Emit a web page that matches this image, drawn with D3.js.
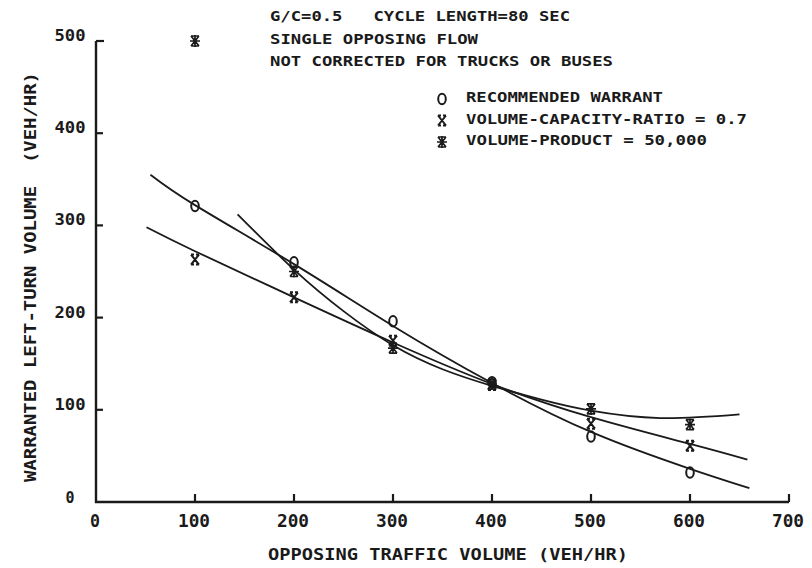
<!DOCTYPE html>
<html>
<head>
<meta charset="utf-8">
<script src="https://cdn.jsdelivr.net/npm/d3@7"></script>
<style>
  body { margin: 0; background: #fff; }
  text { font-family: 'DejaVu Sans Mono', monospace; font-weight: bold; fill: #1a1a1a; white-space: pre; }
</style>
</head>
<body>
<svg id="sketch"></svg>
<script>
// values
var opposing = [100, 200, 300, 400, 500, 600];
var recommended = [321, 260, 196, 130, 71, 32];
var vcRatio = [263, 222, 175, 127, 85, 61];
var volProduct = [500, 250, 167, 128, 101, 84];

// fitted curves drawn on the original
var curveRecX = [55, 100, 200, 300, 400, 500, 600, 660];
var curveRecY = [355, 322, 258, 191, 129, 76, 36, 15];
var curveVcX = [51, 100, 200, 300, 400, 500, 600, 658];
var curveVcY = [298, 272, 222, 173, 128, 92, 63, 46];
var curveVpX = [143, 200, 250, 300, 350, 400, 450, 500, 570, 650];
var curveVpY = [312, 252, 207, 170, 144, 126, 111, 99, 91, 95];

var xTicks = [0, 100, 200, 300, 400, 500, 600, 700];
var yTicks = [0, 100, 200, 300, 400, 500];

var notes = ['G/C=0.5   CYCLE LENGTH=80 SEC', 'SINGLE OPPOSING FLOW', 'NOT CORRECTED FOR TRUCKS OR BUSES'];
var legendLabels = ['RECOMMENDED WARRANT', 'VOLUME-CAPACITY-RATIO = 0.7', 'VOLUME-PRODUCT = 50,000'];

var svg = d3.select('#sketch').attr('width', 812).attr('height', 568);
var ink = '#1a1a1a';

var x = d3.scaleLinear().domain([0, 700]).range([96, 789]);
var y = d3.scaleLinear().domain([0, 500]).range([502, 41]);

//axis frame as a polyline through the scale
var frame = [[0, 500], [0, 0], [700, 0]];
svg.append('path')
    .datum(frame)
    .attr('d', d3.line().x(function(d) { return x(d[0]); }).y(function(d) { return y(d[1]); }))
    .attr('fill', 'none')
    .attr('stroke', ink)
    .attr('stroke-width', 2.4);
svg.append('path')
    .attr('d', d3.line()([[x(0), y(500)], [x(0) + 8, y(500)]]))
    .attr('stroke', ink)
    .attr('stroke-width', 2.2);

//ticks, pointing inward
xTicks.slice(1).forEach(function(d) {
    svg.append('path')
	.attr('d', d3.line()([[x(d), y(0)], [x(d), y(0) - 8]]))
	.attr('stroke', ink)
	.attr('stroke-width', 2.2);
});
yTicks.slice(1, 5).forEach(function(d) {
    svg.append('path')
	.attr('d', d3.line()([[x(0), y(d)], [x(0) + 7, y(d)]]))
	.attr('stroke', ink)
	.attr('stroke-width', 2.2);
});

//tick labels
svg.selectAll('.xlab').data(xTicks).enter().append('text')
    .attr('x', function(d) { return x(d) - 1; })
    .attr('y', 527)
    .attr('text-anchor', 'middle')
    .attr('textLength', function(d) { return d === 0 ? 10 : 32; })
    .attr('lengthAdjust', 'spacingAndGlyphs')
    .style('font-size', '17.5px')
    .text(function(d) { return d; });

svg.selectAll('.ylab').data(yTicks).enter().append('text')
    .attr('x', 70)
    .attr('y', function(d) { return y(d) + (d === 0 ? 1 : 0); })
    .attr('text-anchor', 'middle')
    .attr('textLength', function(d) { return d === 0 ? 9 : 31; })
    .attr('lengthAdjust', 'spacingAndGlyphs')
    .style('font-size', '15px')
    .text(function(d) { return d; });

//axis titles
svg.append('text')
    .attr('x', 448)
    .attr('y', 560)
    .attr('text-anchor', 'middle')
    .attr('textLength', 360)
    .attr('lengthAdjust', 'spacingAndGlyphs')
    .style('font-size', '16.5px')
    .text('OPPOSING TRAFFIC VOLUME (VEH/HR)');

svg.append('text')
    .attr('transform', 'translate(36,277) rotate(-90)')
    .attr('text-anchor', 'middle')
    .attr('textLength', 410)
    .attr('lengthAdjust', 'spacingAndGlyphs')
    .style('font-size', '15px')
    .text('WARRANTED LEFT-TURN VOLUME  (VEH/HR)');

//notes
var noteEnds = [570, 478, 613];
notes.forEach(function(t, i) {
    svg.append('text')
	.attr('x', 270)
	.attr('y', 21 + i * 22.5)
	.attr('textLength', noteEnds[i] - 270)
	.attr('lengthAdjust', 'spacingAndGlyphs')
	.style('font-size', '13.5px')
	.text(t);
});

//fitted curves
var line = d3.line().curve(d3.curveNatural)
    .x(function(d) { return x(d[0]); })
    .y(function(d) { return y(d[1]); });

[[curveRecX, curveRecY], [curveVcX, curveVcY], [curveVpX, curveVpY]].forEach(function(c) {
    svg.append('path')
	.datum(d3.zip(c[0], c[1]))
	.attr('d', line)
	.attr('fill', 'none')
	.attr('stroke', ink)
	.attr('stroke-width', 1.8);
});

//marker shapes
function circleMark(g) {
    g.append('ellipse').attr('rx', 3.8).attr('ry', 5.2)
	.attr('fill', 'none').attr('stroke', ink).attr('stroke-width', 2);
}
function crossMark(g) {
    g.append('path').attr('d', 'M-4,-5L4,5M4,-5L-4,5M-4,-5H-1M1,-5H4M-4,5H-1M1,5H4')
	.attr('fill', 'none').attr('stroke', ink).attr('stroke-width', 2);
}
function starMark(g) {
    g.append('path').attr('d', 'M-4,-5L4,5M4,-5L-4,5M-5,0H5M0,-6V6M-4,-5H4M-4,5H4')
	.attr('fill', 'none').attr('stroke', ink).attr('stroke-width', 1.7);
}

var series = [[recommended, circleMark], [vcRatio, crossMark], [volProduct, starMark]];
series.forEach(function(s) {
    opposing.forEach(function(o, i) {
	var g = svg.append('g').attr('transform', 'translate(' + x(o) + ',' + y(s[0][i]) + ')');
	s[1](g);
    });
});

//legend
series.forEach(function(s, i) {
    var g = svg.append('g').attr('transform', 'translate(442,' + (99 + i * 21.5) + ')');
    s[1](g);
});
var legendEnds = [663, 747, 707];
legendLabels.forEach(function(t, i) {
    svg.append('text')
	.attr('x', 466)
	.attr('y', 102 + i * 21.5)
	.attr('textLength', legendEnds[i] - 466)
	.attr('lengthAdjust', 'spacingAndGlyphs')
	.style('font-size', '13.5px')
	.text(t);
});
</script>
</body>
</html>
